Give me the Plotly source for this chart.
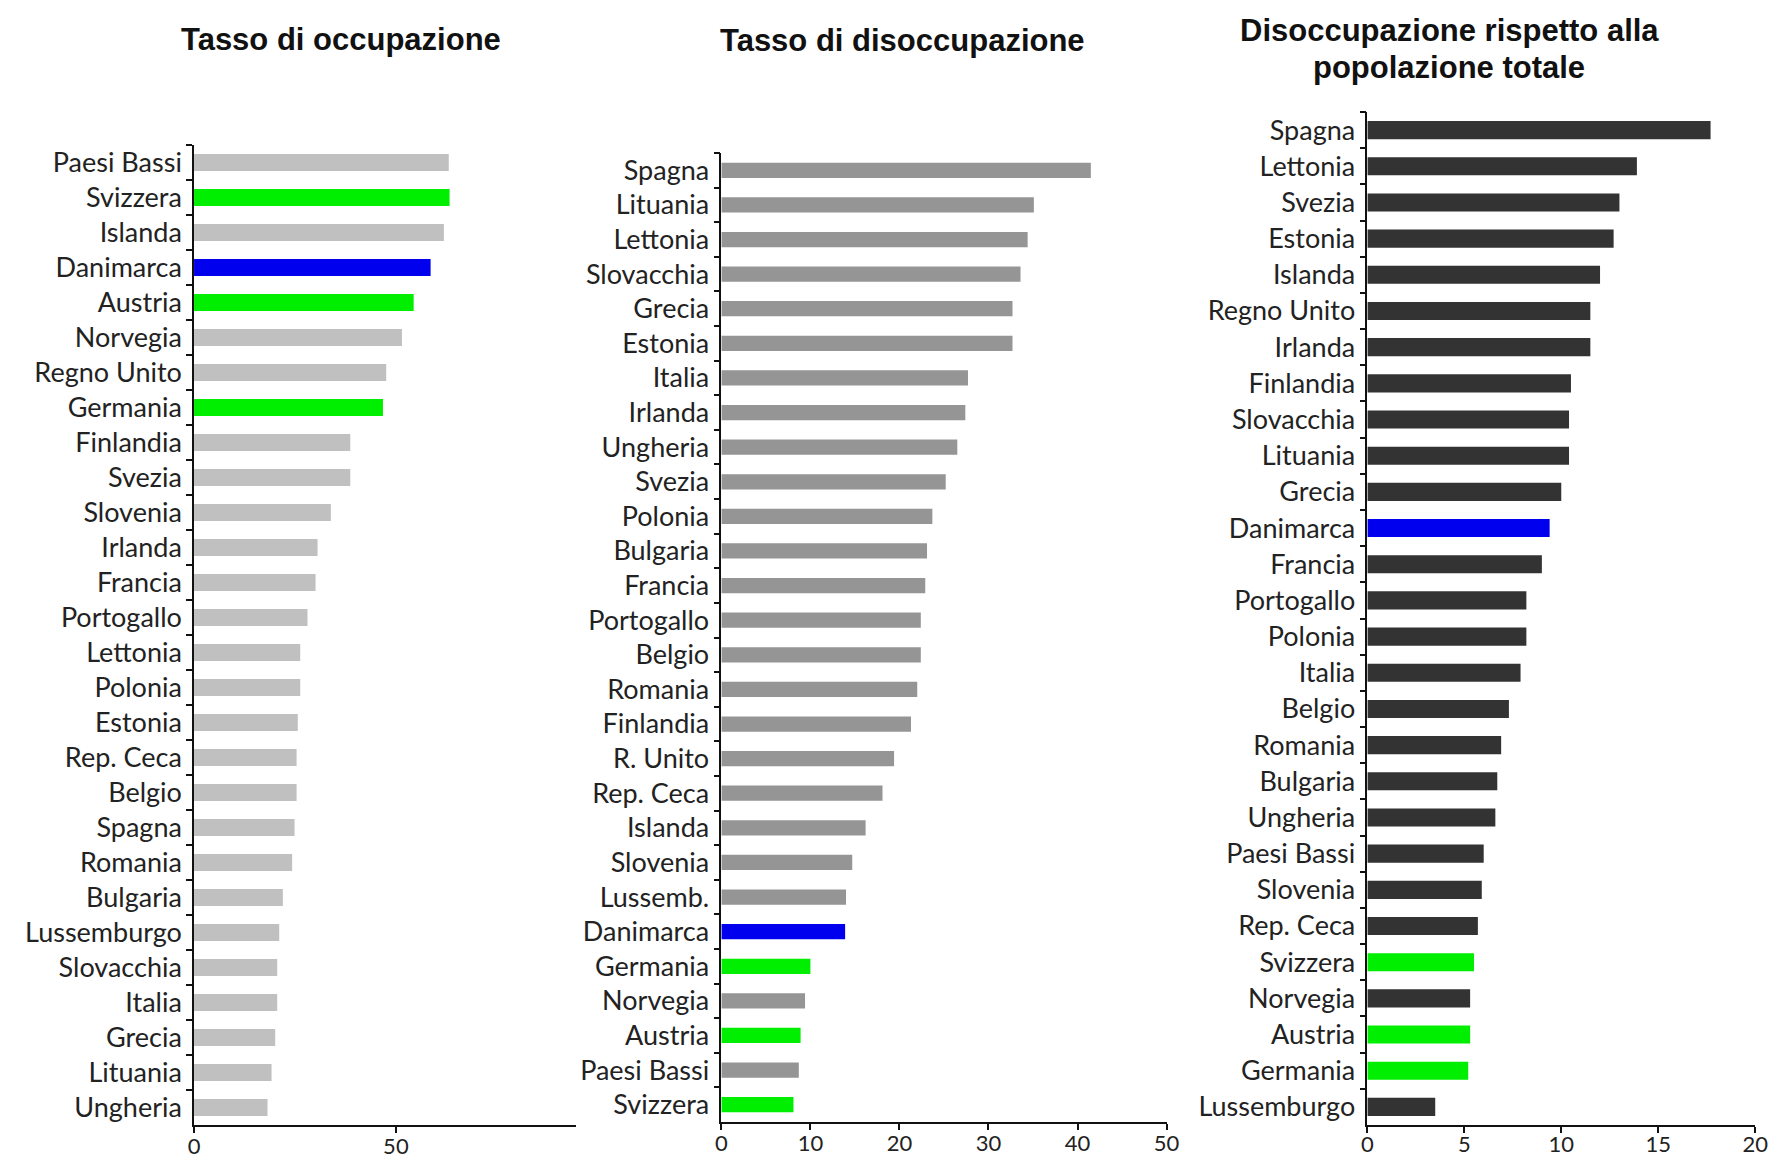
import plotly.graph_objects as go

# ---- Data (listed top to bottom as in the reference) ----
occ_countries = ["Paesi Bassi", "Svizzera", "Islanda", "Danimarca", "Austria", "Norvegia",
                 "Regno Unito", "Germania", "Finlandia", "Svezia", "Slovenia", "Irlanda",
                 "Francia", "Portogallo", "Lettonia", "Polonia", "Estonia", "Rep. Ceca",
                 "Belgio", "Spagna", "Romania", "Bulgaria", "Lussemburgo", "Slovacchia",
                 "Italia", "Grecia", "Lituania", "Ungheria"]
occ_values = [63.1, 63.3, 61.9, 58.6, 54.4, 51.5, 47.6, 46.8, 38.7, 38.7, 33.9, 30.6,
              30.1, 28.1, 26.3, 26.3, 25.7, 25.4, 25.4, 24.9, 24.3, 22.0, 21.1, 20.6,
              20.6, 20.1, 19.2, 18.2]

dis_countries = ["Spagna", "Lituania", "Lettonia", "Slovacchia", "Grecia", "Estonia",
                 "Italia", "Irlanda", "Ungheria", "Svezia", "Polonia", "Bulgaria",
                 "Francia", "Portogallo", "Belgio", "Romania", "Finlandia", "R. Unito",
                 "Rep. Ceca", "Islanda", "Slovenia", "Lussemb.", "Danimarca", "Germania",
                 "Norvegia", "Austria", "Paesi Bassi", "Svizzera"]
dis_values = [41.5, 35.1, 34.4, 33.6, 32.7, 32.7, 27.7, 27.4, 26.5, 25.2, 23.7, 23.1,
              22.9, 22.4, 22.4, 22.0, 21.3, 19.4, 18.1, 16.2, 14.7, 14.0, 13.9, 10.0,
              9.4, 8.9, 8.7, 8.1]

pop_countries = ["Spagna", "Lettonia", "Svezia", "Estonia", "Islanda", "Regno Unito",
                 "Irlanda", "Finlandia", "Slovacchia", "Lituania", "Grecia", "Danimarca",
                 "Francia", "Portogallo", "Polonia", "Italia", "Belgio", "Romania",
                 "Bulgaria", "Ungheria", "Paesi Bassi", "Slovenia", "Rep. Ceca", "Svizzera",
                 "Norvegia", "Austria", "Germania", "Lussemburgo"]
pop_values = [17.7, 13.9, 13.0, 12.7, 12.0, 11.5, 11.5, 10.5, 10.4, 10.4, 10.0, 9.4,
              9.0, 8.2, 8.2, 7.9, 7.3, 6.9, 6.7, 6.6, 6.0, 5.9, 5.7, 5.5, 5.3, 5.3,
              5.2, 3.5]

titles = [["Tasso di occupazione"], ["Tasso di disoccupazione"],
          ["Disoccupazione rispetto alla", "popolazione totale"]]

highlight_blue = ["Danimarca"]
highlight_green = ["Svizzera", "Austria", "Germania"]

BLUE = "#0000ee"
GREEN = "#00ee00"
base_colors = ["#c0c0c0", "#959595", "#333333"]


def colors_for(countries, base):
    out = []
    for c in countries:
        if c in highlight_blue:
            out.append(BLUE)
        elif c in highlight_green:
            out.append(GREEN)
        else:
            out.append(base)
    return out


W, H = 1776, 1159
panels = [
    dict(countries=occ_countries, values=occ_values, x0=182, x1=568, ytop=137, ybot=1117,
         xr=[0, 94.6], dtick=50, title_x=331, title_y=[32], bw=0.48, so=-5),
    dict(countries=dis_countries, values=dis_values, x0=715, x1=1165, ytop=145, ybot=1114,
         xr=[0, 50], dtick=10, title_x=898, title_y=[33], bw=0.44, so=-5),
    dict(countries=pop_countries, values=pop_values, x0=1368, x1=1760, ytop=104, ybot=1117,
         xr=[0, 20], dtick=5, title_x=1451, title_y=[22, 59], bw=0.5, so=-7),
]

fig = go.Figure()
label_font = dict(family="Lato, 'Open Sans', sans-serif", size=27, color="#222222")
xtick_font = dict(family="Lato, 'Open Sans', sans-serif", size=22, color="#222222")

for i, p in enumerate(panels):
    n = "" if i == 0 else str(i + 1)
    fig.add_trace(go.Bar(
        x=p["values"], y=p["countries"], orientation="h",
        marker=dict(color=colors_for(p["countries"], base_colors[i]), line=dict(width=0)),
        width=p["bw"], xaxis="x" + n, yaxis="y" + n, showlegend=False,
        hoverinfo="x+y",
    ))
    fig.layout["xaxis" + n] = dict(
        domain=[p["x0"] / W, p["x1"] / W], range=p["xr"], dtick=p["dtick"], tick0=0,
        anchor="y" + n, showgrid=False, zeroline=False, showline=True,
        linecolor="#111111", linewidth=1.5, ticks="outside", ticklen=6,
        tickcolor="#111111", tickwidth=1.5, tickfont=xtick_font, fixedrange=True,
        ticklabelstandoff=p["so"],
    )
    fig.layout["yaxis" + n] = dict(
        domain=[1 - p["ybot"] / H, 1 - p["ytop"] / H], anchor="x" + n,
        autorange="reversed", type="category", showgrid=False, zeroline=False,
        showline=True, linecolor="#111111", linewidth=1.5, ticks="outside",
        ticklen=6, tickcolor="#111111", tickwidth=1.5, tickson="boundaries",
        tickfont=label_font, ticklabelstandoff=5, fixedrange=True,
    )
    for line, ty in zip(titles[i], p["title_y"]):
        fig.add_annotation(
            text="<b>" + line + "</b>", x=p["title_x"] / W, y=1 - ty / H,
            xref="paper", yref="paper", showarrow=False, xanchor="center", yanchor="middle",
            font=dict(family="Liberation Sans, Arial, sans-serif", size=31, color="#111111"),
        )

fig.update_layout(
    width=W, height=H, margin=dict(l=0, r=0, t=0, b=0),
    paper_bgcolor="white", plot_bgcolor="white",
)

fig.write_html("out.html")
